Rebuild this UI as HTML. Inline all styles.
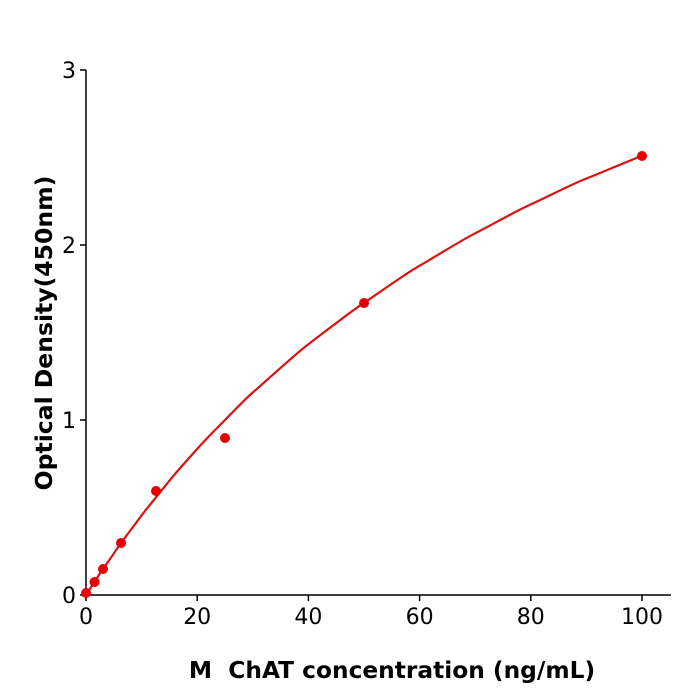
<!DOCTYPE html>
<html><head><style>body{margin:0;background:#fff}svg{display:block}</style></head><body>
<svg width="700" height="700" xmlns="http://www.w3.org/2000/svg" font-family="DejaVu Sans, sans-serif">
<rect width="700" height="700" fill="#fff"/>
<g stroke="#000" stroke-width="1.5" fill="none">
<line x1="86" y1="70" x2="86" y2="595.7"/>
<line x1="85.3" y1="595" x2="671" y2="595"/>
<line x1="80" y1="595" x2="86" y2="595"/>
<line x1="80" y1="420" x2="86" y2="420"/>
<line x1="80" y1="245" x2="86" y2="245"/>
<line x1="80" y1="70" x2="86" y2="70"/>
<line x1="86" y1="595" x2="86" y2="601"/>
<line x1="197.2" y1="595" x2="197.2" y2="601"/>
<line x1="308.4" y1="595" x2="308.4" y2="601"/>
<line x1="419.6" y1="595" x2="419.6" y2="601"/>
<line x1="530.8" y1="595" x2="530.8" y2="601"/>
<line x1="642" y1="595" x2="642" y2="601"/>
</g>
<g font-size="22" fill="#000" text-anchor="end">
<text x="76" y="603">0</text><text x="76" y="428">1</text><text x="76" y="253">2</text><text x="76" y="78">3</text>
</g>
<g font-size="22" fill="#000" text-anchor="middle">
<text x="86" y="624">0</text><text x="197.2" y="624">20</text><text x="308.4" y="624">40</text><text x="419.6" y="624">60</text><text x="530.8" y="624">80</text><text x="642" y="624">100</text>
</g>
<text x="392" y="678" font-size="23.3" font-weight="bold" text-anchor="middle">M&#160; ChAT concentration (ng/mL)</text>
<text transform="translate(52,333) rotate(-90)" font-size="23.5" font-weight="bold" text-anchor="middle">Optical Density(450nm)</text>
<path fill="none" stroke="#dd1111" stroke-width="2.2" d="M86,595 C91,587 96,580 99.9,573.5 S109,561 113.8,553.4 S136,523 141.6,515.4 S162,490 169.4,480.7 S190,457 197.2,448.9 S218,427 225,420 S245,399 252.8,392.5 S294,355 308.4,344.2 S350,312 364,302.8 S405,274 419.6,265.7 S460,241 475.2,233.3 S516,211 530.8,204.4 S572,184 586.4,178.5 S628,161 642,155.8"/>
<g fill="#e60000">
<circle cx="86" cy="593" r="5"/><circle cx="94.5" cy="582" r="5"/><circle cx="103" cy="569" r="5"/><circle cx="121" cy="543" r="5"/><circle cx="156" cy="491" r="5"/><circle cx="225" cy="438" r="5"/><circle cx="364" cy="303" r="5"/><circle cx="642" cy="156" r="5"/>
</g>
</svg>
</body></html>
